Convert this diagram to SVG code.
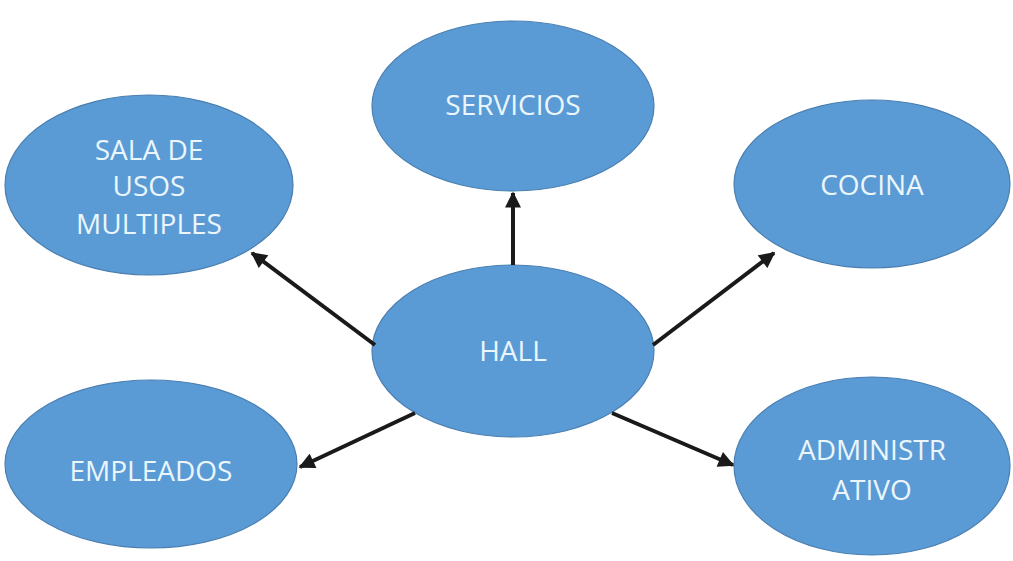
<svg xmlns="http://www.w3.org/2000/svg" width="1013" height="561" viewBox="0 0 1013 561">
<style>
.n ellipse{fill:#5b9bd5;stroke:#4a7fb0;stroke-width:1.2}
.n text{font-family:"Open Sans","Liberation Sans",sans-serif;font-size:28px;fill:#eaf6fc;text-anchor:middle}
.c line{stroke:#1a1a1a;stroke-width:4;marker-end:url(#ah)}
</style>
<defs>
<marker id="ah" viewBox="0 0 10 10" refX="9" refY="5" markerWidth="4.3" markerHeight="4" orient="auto" markerUnits="strokeWidth">
<path d="M0,0 L10,5 L0,10 z" fill="#1a1a1a"/>
</marker>
</defs>
<rect width="1013" height="561" fill="#fff"/>
<g id="servicios" class="n"><ellipse cx="513" cy="106" rx="141" ry="85"/><text x="513" y="115">SERVICIOS</text></g>
<g id="sala" class="n"><ellipse cx="149" cy="185" rx="144" ry="90"/><text x="149" y="160">SALA DE</text><text x="149" y="196">USOS</text><text x="149" y="234">MULTIPLES</text></g>
<g id="cocina" class="n"><ellipse cx="872" cy="184" rx="138" ry="84"/><text x="872" y="195">COCINA</text></g>
<g id="hall" class="n"><ellipse cx="513" cy="351" rx="141" ry="86"/><text x="513" y="361">HALL</text></g>
<g id="empleados" class="n"><ellipse cx="151" cy="464" rx="146" ry="84"/><text x="151" y="481">EMPLEADOS</text></g>
<g id="administrativo" class="n"><ellipse cx="872" cy="466" rx="138" ry="89"/><text x="872" y="460">ADMINISTR</text><text x="872" y="500">ATIVO</text></g>
<g id="connectors" class="c">
<line x1="513" y1="265" x2="513" y2="193"/>
<line x1="375" y1="345" x2="252" y2="253"/>
<line x1="653" y1="345" x2="774" y2="253"/>
<line x1="415" y1="413" x2="300" y2="467"/>
<line x1="612" y1="413" x2="733" y2="465"/>
</g>
</svg>
